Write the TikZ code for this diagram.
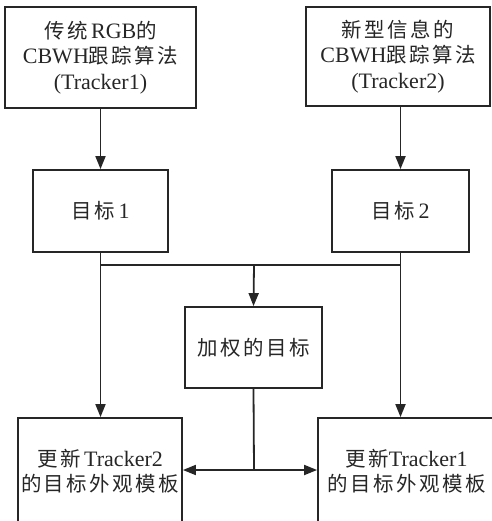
\documentclass[tikz,border=0pt]{standalone}
\usepackage{fontspec}
\setmainfont{Liberation Serif}
\newfontfamily\cjk[LetterSpace=12,Scale=0.93]{Noto Sans CJK SC}
\usetikzlibrary{arrows.meta}
\definecolor{ink}{HTML}{262626}
\tikzset{
  box/.style={draw=ink, line width=1.8pt, rectangle, inner sep=0pt, align=center,
    text=ink, font=\fontsize{22}{25.5}\selectfont},
  conn/.style={draw=ink, line width=1.8pt},
  arr/.style={conn, -{Triangle[length=13pt,width=10pt]}}
}
\begin{document}
\begin{tikzpicture}[x=1pt,y=-1pt]
\useasboundingbox (0,0) rectangle (491,521);
\node[box, minimum width=191pt, minimum height=101pt] (a) at (100.5,57.5)
  {{\cjk 传统}\,RGB{\cjk 的}\\CBWH{\cjk 跟踪算法}\\(Tracker1)};
\node[box, minimum width=184pt, minimum height=99pt] (b) at (398,56.5)
  {{\cjk 新型信息的}\\CBWH{\cjk 跟踪算法}\\(Tracker2)};
\node[box, minimum width=135pt, minimum height=82pt] (t1) at (100.5,211)
  {{\cjk 目标}\,1};
\node[box, minimum width=137pt, minimum height=82pt] (t2) at (400.5,211)
  {{\cjk 目标}\,2};
\node[box, minimum width=137pt, minimum height=81pt] (w) at (253.5,347.5)
  {{\cjk 加权的目标}};
\node[box, minimum width=164pt, minimum height=106pt] (bl) at (100,471)
  {{\cjk 更新}\,Tracker2\\{\cjk 的目标外观模板}};
\node[box, minimum width=177pt, minimum height=106pt] (br) at (406.5,471)
  {{\cjk 更新}Tracker1\\{\cjk 的目标外观模板}};
\coordinate (j1) at (101,265);
\coordinate (j2) at (401,265);
\coordinate (jm) at (254,265);
\coordinate (j3) at (254,470);
\draw[arr] (a.south) -- (t1.north);
\draw[arr] (b.south -| t2.north) -- (t2.north);
\draw[arr] (t1.south) -- (bl.north -| t1.south);
\draw[arr] (t2.south) -- (br.north -| t2.south);
\draw[conn] (j1) -- (j2);
\draw[arr] (jm) -- (w.north);
\draw[conn] (w.south) -- (j3);
\draw[arr] (j3) -- (bl.east |- j3);
\draw[arr] (j3) -- (br.west |- j3);
\end{tikzpicture}
\end{document}
